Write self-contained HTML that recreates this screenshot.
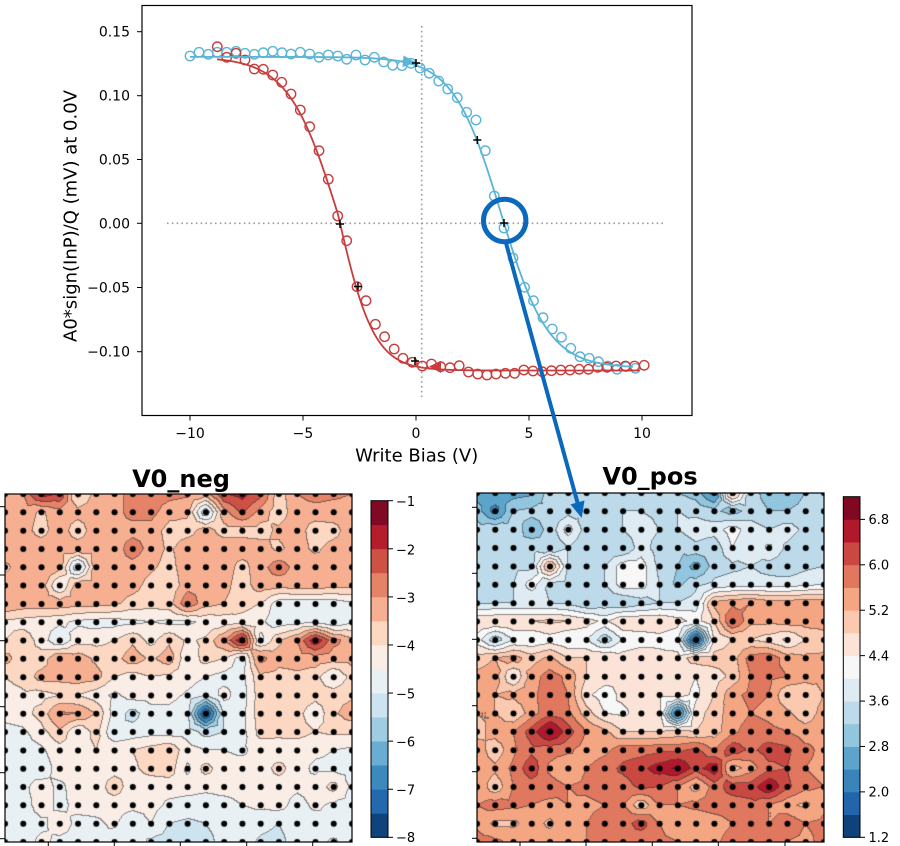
<!DOCTYPE html>
<html><head><meta charset="utf-8">
<style>
html,body{margin:0;padding:0;background:#fff;}
body{width:900px;height:846px;position:relative;overflow:hidden;font-family:"DejaVu Sans","Liberation Sans",sans-serif;}
canvas{position:absolute;}
#ov{position:absolute;left:0;top:0;}
text{font-family:"DejaVu Sans","Liberation Sans",sans-serif;fill:#000;}
</style></head><body>
<canvas id="mL" width="347" height="348" style="left:5px;top:494px"></canvas>
<canvas id="mR" width="347" height="349" style="left:477px;top:493px"></canvas>
<svg id="ov" width="900" height="846" viewBox="0 0 900 846" xmlns="http://www.w3.org/2000/svg">
<g id="cbars"></g>
<rect x="5" y="494" width="347" height="348" fill="none" stroke="#000" stroke-width="1.2"/>
<rect x="477" y="493" width="347" height="349" fill="none" stroke="#000" stroke-width="1.2"/>
<g stroke="#000" stroke-width="1">
<line x1="0" y1="506.7" x2="5" y2="506.7"/><line x1="0" y1="575" x2="5" y2="575"/><line x1="0" y1="640.7" x2="5" y2="640.7"/><line x1="0" y1="706.7" x2="5" y2="706.7"/><line x1="0" y1="772.7" x2="5" y2="772.7"/><line x1="0" y1="838.7" x2="5" y2="838.7"/>
<line x1="48.3" y1="842" x2="48.3" y2="847"/><line x1="114.3" y1="842" x2="114.3" y2="847"/><line x1="180.3" y1="842" x2="180.3" y2="847"/><line x1="246.7" y1="842" x2="246.7" y2="847"/><line x1="312.7" y1="842" x2="312.7" y2="847"/>
<line x1="472" y1="507.3" x2="477" y2="507.3"/><line x1="472" y1="573.3" x2="477" y2="573.3"/><line x1="472" y1="639.3" x2="477" y2="639.3"/><line x1="472" y1="705.7" x2="477" y2="705.7"/><line x1="472" y1="771.7" x2="477" y2="771.7"/><line x1="472" y1="838.3" x2="477" y2="838.3"/>
<line x1="520" y1="842" x2="520" y2="847"/><line x1="586" y1="842" x2="586" y2="847"/><line x1="652.3" y1="842" x2="652.3" y2="847"/><line x1="718.3" y1="842" x2="718.3" y2="847"/><line x1="785" y1="842" x2="785" y2="847"/>
</g>
<text x="181" y="487" font-size="24" font-weight="bold" text-anchor="middle">V0_neg</text>
<text x="650" y="484.3" font-size="24" font-weight="bold" text-anchor="middle">V0_pos</text>
<g font-size="13">
<text x="396" y="506.2">−1</text><text x="396" y="554.3">−2</text><text x="396" y="602.4">−3</text><text x="396" y="650.4">−4</text><text x="396" y="698.5">−5</text><text x="396" y="746.6">−6</text><text x="396" y="794.7">−7</text><text x="396" y="842">−8</text>
<text x="868.5" y="524">6.8</text><text x="868.5" y="569.5">6.0</text><text x="868.5" y="614.9">5.2</text><text x="868.5" y="660.3">4.4</text><text x="868.5" y="705.7">3.6</text><text x="868.5" y="751.1">2.8</text><text x="868.5" y="796.5">2.0</text><text x="868.5" y="842">1.2</text>
</g>
<rect x="142" y="5.5" width="550" height="410" fill="#fff" stroke="#000" stroke-width="1.2"/>
<g stroke="#999" stroke-width="1.6" stroke-dasharray="1.6 3.2" fill="none">
<line x1="167" y1="223.3" x2="666" y2="223.3"/>
<line x1="421.7" y1="26" x2="421.7" y2="397"/>
</g>
<g stroke="#000" stroke-width="1">
<line x1="137" y1="31.7" x2="142" y2="31.7"/><line x1="137" y1="95.7" x2="142" y2="95.7"/><line x1="137" y1="159.5" x2="142" y2="159.5"/><line x1="137" y1="223.3" x2="142" y2="223.3"/><line x1="137" y1="287.5" x2="142" y2="287.5"/><line x1="137" y1="351.7" x2="142" y2="351.7"/>
<line x1="190" y1="415.5" x2="190" y2="420.5"/><line x1="303" y1="415.5" x2="303" y2="420.5"/><line x1="416" y1="415.5" x2="416" y2="420.5"/><line x1="529" y1="415.5" x2="529" y2="420.5"/><line x1="642" y1="415.5" x2="642" y2="420.5"/>
</g>
<g font-size="14" text-anchor="end">
<text x="130" y="36.7">0.15</text><text x="130" y="100.7">0.10</text><text x="130" y="164.5">0.05</text><text x="130" y="228.3">0.00</text><text x="130" y="292.5">−0.05</text><text x="130" y="356.7">−0.10</text>
</g>
<g font-size="14" text-anchor="middle">
<text x="190" y="438">−10</text><text x="303" y="438">−5</text><text x="416" y="438">0</text><text x="529" y="438">5</text><text x="642" y="438">10</text>
</g>
<text x="416.7" y="461.5" font-size="18" text-anchor="middle">Write Bias (V)</text>
<text transform="translate(76.5,216) rotate(-90)" font-size="18" text-anchor="middle">A0*sign(InP)/Q (mV) at 0.0V</text>
<g id="plot"></g>
<circle cx="504.7" cy="220.5" r="21.2" fill="none" stroke="#0a68bd" stroke-width="5"/>
<line x1="506" y1="243" x2="577.5" y2="502.6" stroke="#0a68bd" stroke-width="4"/>
<polygon points="581.7,518 584.5,500.5 570.5,504.4" fill="#0a68bd"/>
</svg>
<script>
const NS='http://www.w3.org/2000/svg';
function el(tag,attrs,parent){const e=document.createElementNS(NS,tag);for(const k in attrs)e.setAttribute(k,attrs[k]);parent.appendChild(e);return e;}
const colL=['#0f437c','#2369ae','#3c89be','#6bacd1','#9fcce2','#cde3ef','#e9f0f4','#f9ede6','#fcd7c2','#f6b091','#e58368','#ce5146','#b51d2d','#820923'];
const colR=['#0e427a','#2166ac','#3884bb','#5da4cc','#92c5de','#bcdaea','#deebf2','#f7f7f7','#fbe4d7','#fac9b0','#f4a582','#e0775f','#ca4842','#b2182b','#800823'];
(function(){
 const g=document.getElementById('cbars');
 let h=(837.3-500.7)/14;
 for(let i=0;i<14;i++)el('rect',{x:371,y:(837.3-(i+1)*h).toFixed(2),width:17,height:(h+0.4).toFixed(2),fill:colL[i]},g);
 el('rect',{x:371,y:500.7,width:17,height:336.6,fill:'none',stroke:'#000','stroke-width':1},g);
 for(let t=0;t<8;t++){const y=500.7+t*48.09;el('line',{x1:388,y1:y,x2:393,y2:y,stroke:'#000','stroke-width':1},g);}
 h=(837.3-496.7)/15;
 for(let i=0;i<15;i++)el('rect',{x:843.3,y:(837.3-(i+1)*h).toFixed(2),width:16.7,height:(h+0.4).toFixed(2),fill:colR[i]},g);
 el('rect',{x:843.3,y:496.7,width:16.7,height:340.6,fill:'none',stroke:'#000','stroke-width':1},g);
 [6.8,6.0,5.2,4.4,3.6,2.8,2.0,1.2].forEach(t=>{const y=837.3-(t-1.2)*56.77;el('line',{x1:860,y1:y,x2:865,y2:y,stroke:'#000','stroke-width':1},g);});
})();
(function(){
 const p=document.getElementById('plot');
 const X=V=>416+22.6*V, Y=v=>223.3-1280*v;
 function curve(c,a,V0,wu,wl,Va,Vb){let pts=[];for(let V=Va;V<=Vb+1e-9;V+=0.05){const w=V<V0?wu:wl;const v=c+a*Math.tanh(-(V-V0)/w);pts.push(X(V).toFixed(2)+','+Y(v).toFixed(2));}return pts.join(' ');}
 const B='#5ab4d6', R='#c73d3d';
 const blue=[[190,56],[199,52.3],[208.3,54.3],[217.3,52.3],[226.7,52.3],[236,51.3],[245,53.3],[254.3,54.3],[263.3,52.7],[272.7,51.3],[282,52.7],[291,54],[300.3,52.3],[309.7,54],[319,57.3],[328.3,55],[337.7,56],[346.7,59.3],[356,55],[365,60],[374.3,57.3],[383.7,62],[392.7,65.3],[402,65.7],[411,63.3],[420,68],[429.3,73.3],[438.7,81],[447.7,89],[457.3,97.7],[466.7,112.3],[476,120],[485.3,150.7],[494.3,196],[504,228],[513,258],[524.6,287.3],[533.5,300.7],[543,317.7],[552.3,329],[561.5,337.3],[570.8,348.3],[580,356.7],[589.2,358.3],[598.5,361.7],[607.7,366],[617,369.3],[626,366.7],[635.4,368.3]];
 const red=[[217.3,46.7],[226.7,57.3],[236,53.3],[245,60],[254.3,69],[263.3,69.3],[272.7,75],[281.7,82.3],[291,94],[300.3,110],[309.7,126.7],[319,150.7],[328.3,179.3],[337.7,216],[346.7,240.7],[357,286.7],[366,300.7],[375.4,324.3],[384.6,336.7],[394.2,349],[403,358.3],[412.3,362.3],[422.3,366],[431.5,364],[440.8,366.7],[450,367.7],[459.2,365.7],[468.5,372],[477.7,374],[487,375],[496,374],[505.4,373.3],[514.6,373.3],[523.8,370],[533,371],[542.3,371.7],[551.5,370.7],[560.8,370],[570,370],[579.2,369.3],[588.5,369.3],[597.7,367.3],[607,367.3],[616,366],[625.4,366],[634.6,366],[644.2,365.3]];
 blue.forEach(q=>el('circle',{cx:q[0],cy:q[1],r:4.7,fill:'none',stroke:B,'stroke-width':1.4},p));
 red.forEach(q=>el('circle',{cx:q[0],cy:q[1],r:4.7,fill:'none',stroke:R,'stroke-width':1.4},p));
 el('polyline',{points:curve(0.0085,0.1215,3.75,2.1,2.1,-10,9.6),fill:'none',stroke:B,'stroke-width':1.8},p);
 el('polyline',{points:curve(0.0075,0.1225,-3.46,2.2,1.6,-8.8,9.9),fill:'none',stroke:R,'stroke-width':1.8},p);
 el('polygon',{points:'416,62.5 403.5,55.5 402.5,67',fill:B},p);
 el('polygon',{points:'429,366.5 441,360.8 441,373',fill:R},p);
 [[416,63],[477.3,140],[504,223],[340,224],[358,286.5],[415,361]].forEach(q=>{
  el('line',{x1:q[0]-4,y1:q[1],x2:q[0]+4,y2:q[1],stroke:'#000','stroke-width':1.5},p);
  el('line',{x1:q[0],y1:q[1]-4,x2:q[0],y2:q[1]+4,stroke:'#000','stroke-width':1.5},p);
 });
})();
const L=[
[-3.2,-3.0,-1.7,-2.0,-4.2,-3.3,-3.2,-2.8,-2.7,-2.8,-2.9,-3.2,-2.0,-1.8,-2.3,-3.8,-3.0,-2.8,-2.9,-3.0],
[-3.2,-3.2,-3.6,-3.2,-3.3,-3.2,-3.2,-2.8,-2.8,-3.3,-3.4,-5.5,-3.2,-2.4,-3.2,-3.8,-3.2,-3.2,-3.2,-3.2],
[-3.2,-3.3,-3.7,-3.2,-3.8,-3.2,-3.2,-3.2,-3.2,-3.7,-3.7,-3.3,-3.7,-3.7,-3.7,-3.4,-3.2,-3.8,-3.7,-3.2],
[-3.2,-3.2,-3.2,-3.2,-3.2,-3.2,-3.3,-2.7,-3.2,-3.6,-3.2,-3.2,-3.2,-3.2,-3.3,-3.6,-3.3,-3.6,-3.3,-3.2],
[-3.6,-3.3,-3.0,-3.3,-5.5,-3.2,-3.2,-3.2,-3.4,-3.7,-3.2,-3.2,-3.2,-3.7,-3.2,-2.7,-3.2,-3.2,-3.4,-3.2],
[-3.3,-3.2,-3.2,-4.6,-3.2,-3.2,-3.2,-3.3,-3.7,-3.9,-3.2,-3.0,-3.3,-3.8,-3.2,-3.3,-3.2,-3.2,-3.3,-3.3],
[-3.0,-3.2,-3.2,-3.2,-3.3,-3.3,-3.4,-3.7,-3.8,-3.7,-2.6,-3.3,-3.5,-3.8,-4.0,-4.8,-4.8,-4.8,-4.8,-4.6],
[-4.1,-4.2,-4.3,-4.4,-4.6,-4.7,-4.7,-4.6,-4.5,-4.6,-4.6,-4.4,-4.3,-4.2,-4.4,-4.8,-4.7,-4.6,-5.0,-4.6],
[-4.0,-3.7,-4.2,-5.0,-4.2,-4.2,-4.0,-3.6,-4.2,-3.6,-4.1,-3.9,-3.0,-1.5,-4.6,-3.6,-3.0,-1.6,-2.8,-3.3],
[-3.3,-3.8,-3.8,-3.0,-3.2,-3.6,-3.7,-3.2,-3.6,-3.2,-4.4,-3.8,-4.0,-4.8,-2.8,-3.3,-3.3,-3.2,-3.3,-3.3],
[-4.0,-3.8,-3.3,-3.3,-3.2,-3.3,-4.0,-4.2,-4.0,-4.1,-4.2,-4.5,-4.7,-4.7,-3.6,-3.7,-3.6,-3.8,-4.6,-3.8],
[-4.2,-4.1,-4.2,-4.0,-4.0,-4.3,-4.6,-4.3,-4.3,-4.3,-4.6,-5.0,-4.3,-4.8,-3.7,-3.7,-3.6,-3.8,-3.7,-3.6],
[-4.3,-4.2,-3.8,-2.9,-3.0,-3.5,-4.7,-5.2,-4.7,-4.7,-4.9,-7.8,-5.0,-4.7,-3.7,-3.7,-3.8,-4.4,-3.6,-3.2],
[-4.7,-4.6,-4.2,-3.6,-4.5,-3.8,-5.0,-4.8,-4.7,-4.7,-4.7,-5.2,-5.0,-4.7,-3.8,-3.8,-3.8,-4.0,-3.9,-3.9],
[-4.7,-4.7,-4.6,-4.2,-4.2,-4.0,-4.1,-4.0,-3.8,-3.6,-4.3,-4.5,-4.5,-4.6,-4.3,-4.4,-4.3,-4.4,-4.5,-4.6],
[-4.7,-4.6,-4.8,-4.3,-4.3,-4.3,-4.2,-4.1,-3.8,-3.7,-4.6,-3.8,-4.3,-4.3,-4.3,-3.8,-4.3,-4.6,-4.6,-4.7],
[-4.7,-4.6,-4.3,-4.6,-4.3,-4.3,-3.7,-4.3,-4.3,-4.3,-4.3,-4.4,-4.3,-4.3,-4.3,-4.3,-4.4,-4.3,-3.8,-4.6],
[-4.7,-4.7,-4.3,-4.6,-4.4,-4.3,-4.3,-4.3,-4.3,-4.6,-4.7,-4.7,-4.7,-4.5,-4.4,-4.3,-4.7,-4.4,-4.6,-4.7],
[-4.7,-4.7,-4.6,-4.3,-4.6,-4.6,-4.4,-5.0,-4.5,-5.0,-5.1,-5.0,-4.8,-4.7,-4.8,-5.0,-4.7,-4.7,-4.6,-4.7],
[-4.8,-4.7,-4.4,-4.6,-4.6,-4.5,-4.8,-4.7,-5.1,-5.2,-5.2,-5.2,-4.8,-4.7,-5.1,-5.2,-4.7,-4.8,-5.1,-4.7]];
const R=[
[2.6,2.8,2.6,2.7,3.4,3.5,3.4,3.2,3.3,3.4,3.2,3.2,3.0,2.2,5.2,3.4,3.0,3.0,3.2,3.3],
[3.0,2.2,3.2,3.3,3.3,3.4,3.5,3.5,3.6,3.6,3.5,3.6,3.5,3.3,3.0,3.4,3.2,3.2,3.3,3.5],
[3.4,3.5,3.4,3.0,3.3,4.2,3.4,3.6,3.6,3.8,3.6,3.6,3.8,3.8,4.2,3.8,3.6,3.8,3.5,3.4],
[3.3,3.5,3.2,3.4,3.2,3.6,3.2,3.4,3.2,3.8,3.4,3.3,3.5,3.3,4.0,3.6,4.1,3.5,3.2,3.6],
[3.4,3.4,3.5,3.5,5.4,3.6,3.3,3.6,4.2,4.2,3.5,3.2,2.6,3.4,3.5,3.6,3.4,3.3,3.5,3.6],
[3.2,3.4,3.6,4.2,3.5,3.4,3.5,3.6,4.2,4.2,3.6,3.1,3.5,3.7,3.8,3.8,3.8,3.8,3.9,4.0],
[3.5,3.6,3.6,3.6,3.6,3.5,3.2,3.3,3.2,3.4,3.6,3.6,3.8,5.3,5.5,5.6,5.4,5.4,5.5,5.5],
[4.8,4.8,4.8,4.8,4.9,4.8,4.6,4.3,4.8,4.8,4.8,4.6,4.2,4.8,6.1,5.3,5.3,5.4,5.4,5.4],
[4.2,3.3,4.0,4.0,4.2,4.0,4.0,3.3,4.0,4.1,4.2,4.0,1.4,4.4,4.8,4.8,4.6,4.3,4.8,5.0],
[5.0,5.2,5.4,5.0,5.3,4.8,4.8,4.8,4.6,4.8,4.6,4.6,5.0,5.0,5.0,5.8,5.9,5.4,5.3,5.3],
[5.3,5.4,4.3,5.4,5.8,5.5,4.8,4.6,4.4,4.5,4.6,4.6,4.4,4.6,4.9,5.6,5.7,5.6,5.4,5.3],
[5.3,5.2,5.3,5.5,5.8,5.6,4.5,4.2,4.5,4.6,4.5,4.6,4.3,4.8,5.5,5.7,5.6,4.8,4.8,5.2],
[5.2,5.2,4.8,5.4,5.9,5.7,5.0,4.4,4.3,4.6,4.5,1.8,4.6,5.0,5.4,5.6,5.5,5.3,4.9,5.4],
[5.0,5.4,5.6,6.2,7.0,6.2,5.6,5.3,4.8,4.8,4.8,4.9,4.8,5.0,5.5,5.8,5.7,5.6,5.4,5.5],
[5.5,4.9,5.5,5.9,5.8,5.7,5.4,5.5,5.8,5.8,5.9,5.9,6.1,5.6,6.3,5.9,6.2,6.1,5.7,5.5],
[5.5,5.3,5.7,6.3,5.5,5.2,5.6,5.8,6.1,6.3,6.6,6.9,6.2,6.7,5.0,5.4,5.9,6.0,5.6,5.5],
[5.6,4.9,5.6,5.8,5.8,5.6,5.7,5.8,5.8,6.1,6.0,5.6,5.0,5.8,6.2,6.2,6.8,6.1,5.7,5.6],
[5.6,5.8,5.7,5.6,5.5,5.6,5.5,5.6,5.6,4.9,5.6,5.6,5.7,5.8,5.8,5.9,5.6,5.3,5.1,5.5],
[5.5,5.1,5.1,5.4,5.1,5.6,5.6,5.8,5.8,6.2,5.6,5.3,5.3,5.4,5.6,5.6,5.6,5.9,5.6,5.7],
[5.8,5.7,5.5,5.6,5.4,5.5,5.6,5.7,5.8,5.7,5.7,5.6,5.5,5.5,5.8,6.0,5.6,5.6,5.5,5.7]];
function interp(data,gx,gy){
 const c0=Math.min(18,Math.floor(gx)),r0=Math.min(18,Math.floor(gy));
 const fx=gx-c0,fy=gy-r0;
 const a=data[r0][c0],b=data[r0][c0+1],c=data[r0+1][c0],d=data[r0+1][c0+1];
 const m=(a+b+c+d)/4;
 if(fy<=fx&&fy<=1-fx) return a*(1-fx-fy)+b*(fx-fy)+m*2*fy;
 if(fy>=fx&&fy>=1-fx) return c*(fy-fx)+d*(fx+fy-1)+m*2*(1-fy);
 if(fx<fy&&fx<1-fy) return a*(1-fy-fx)+c*(fy-fx)+m*2*fx;
 return b*(fx-fy)+d*(fx+fy-1)+m*2*(1-fx);
}
function drawMap(id,data,lo,step,cols){
 const cv=document.getElementById(id),W=cv.width,H=cv.height,ctx=cv.getContext('2d');
 const img=ctx.createImageData(W,H),d=img.data,nb=cols.length;
 const rgb=cols.map(h=>[parseInt(h.substr(1,2),16),parseInt(h.substr(3,2),16),parseInt(h.substr(5,2),16)]);
 const band=new Int16Array(W*H);
 for(let y=0;y<H;y++){
  const gy=(y+0.5)/H*19;
  for(let x=0;x<W;x++){
   const gx=(x+0.5)/W*19;
   const v=interp(data,gx,gy);
   let b=Math.floor((v-lo)/step);if(b<0)b=0;if(b>nb-1)b=nb-1;band[y*W+x]=b;
  }
 }
 for(let y=0;y<H;y++)for(let x=0;x<W;x++){
  const i=y*W+x,b=band[i],c=rgb[b],k=i*4;
  const edge=(x<W-1&&band[i+1]!==b)||(y<H-1&&band[i+W]!==b);
  if(edge){d[k]=c[0]*0.45+45*0.55;d[k+1]=c[1]*0.45+45*0.55;d[k+2]=c[2]*0.45+45*0.55;}
  else{d[k]=c[0];d[k+1]=c[1];d[k+2]=c[2];}
  d[k+3]=255;
 }
 ctx.putImageData(img,0,0);
 ctx.fillStyle='#000';
 for(let r=0;r<20;r++)for(let c=0;c<20;c++){ctx.beginPath();ctx.arc(c*W/19,r*H/19,3,0,2*Math.PI);ctx.fill();}
}
drawMap('mL',L,-8,0.5,colL);
drawMap('mR',R,1.2,0.4,colR);
</script>
</body></html>
